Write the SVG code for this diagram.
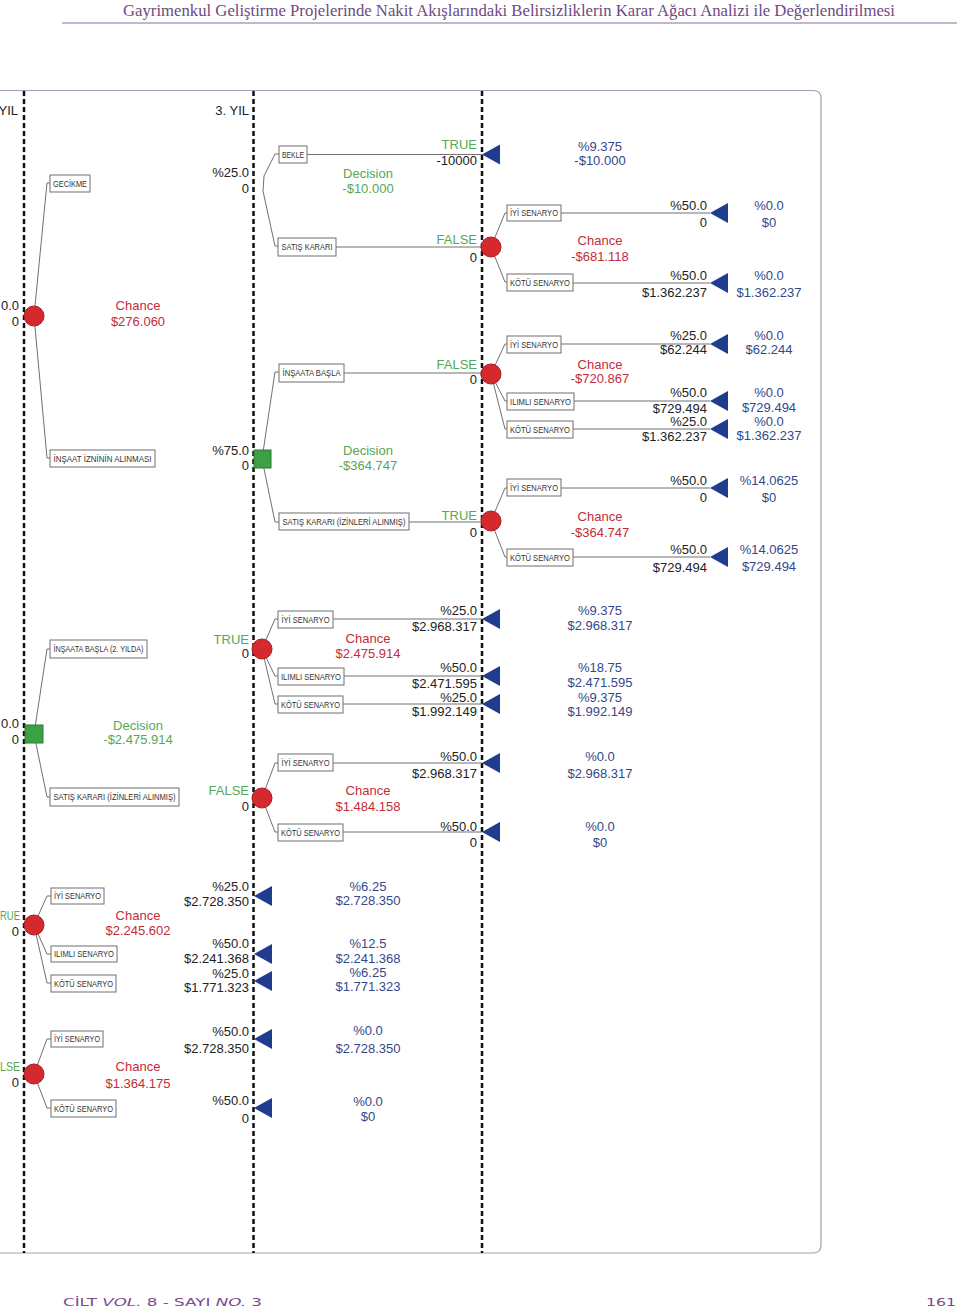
<svg xmlns="http://www.w3.org/2000/svg" xmlns:xlink="http://www.w3.org/1999/xlink" width="960" height="1311" viewBox="0 0 960 1311">
<style>
.t{font-family:"Liberation Sans",Arial,sans-serif;font-size:13px}
.k{fill:#222}
.g{fill:#55a855}
.r{fill:#c42c37}
.b{fill:#34488a}
.e{text-anchor:end}
.m{text-anchor:middle}
.bx{fill:#fff;stroke:#6e6e6e;stroke-width:1}
.lbl{font-family:"Liberation Sans",Arial,sans-serif;font-size:9px;fill:#333;text-anchor:middle}
.dash{stroke:#111;stroke-width:2.5;stroke-dasharray:5 3;fill:none}
.cn{fill:none;stroke:#707070;stroke-width:1}
.ch{fill:#d42a2f;stroke:#a81c22;stroke-width:1}
.dec{fill:#3ca044;stroke:#2c7a30;stroke-width:1}
.term{fill:#1f3c8e}
</style>
<defs>
<path id="tri" d="M0,0 L18,-10 L18,10 Z"/>
</defs>
<rect width="960" height="1311" fill="#fff"/>
<!-- header -->
<text x="509" y="16" font-family="Liberation Serif,serif" font-size="17" fill="#6e4a82" text-anchor="middle" textLength="772" lengthAdjust="spacingAndGlyphs">Gayrimenkul Geliştirme Projelerinde Nakit Akışlarındaki Belirsizliklerin Karar Ağacı Analizi ile Değerlendirilmesi</text>
<line x1="62" y1="23" x2="957" y2="23" stroke="#8a6a9a" stroke-width="1"/>
<!-- frame -->
<path d="M0,90.5 H813 Q821,90.5 821,98 V1245 Q821,1253 813,1253 H0" fill="none" stroke="#a59db5" stroke-width="1.2"/>
<!-- dashed year lines -->
<g id="yearlines">
<line class="dash" x1="24" y1="91" x2="24" y2="1253"/>
<line class="dash" x1="253.5" y1="91" x2="253.5" y2="1253"/>
<line class="dash" x1="482" y1="91" x2="482" y2="1253"/>
</g>
<text class="t k e" x="18" y="115">YIL</text>
<text class="t k e" x="249" y="115">3. YIL</text>

<!-- connectors -->
<g id="connectors" class="cn">
<path d="M34,316 L47,183 H50"/>
<path d="M34,316 L47,458 H50"/>
<path d="M279,154 H275 L264,176 L263,191 L275,246 H278"/>
<path d="M262,459 L275,372 H279"/>
<path d="M262,459 L275,522 H279"/>
<path d="M307,154.5 H482"/>
<path d="M336,247 H482"/>
<path d="M344,373 H482"/>
<path d="M409,522 H482"/>
<path d="M491,247 L505,213 H507"/>
<path d="M491,247 L505,282 H507"/>
<path d="M561,213 H710"/>
<path d="M573,283 H710"/>
<path d="M491,374 L505,344 H507"/>
<path d="M491,374 L505,401 H507"/>
<path d="M491,374 L505,429 H507"/>
<path d="M561,344 H710"/>
<path d="M574,401 H710"/>
<path d="M573,429 H710"/>
<path d="M491,521 L505,488 H507"/>
<path d="M491,521 L505,557 H507"/>
<path d="M561,488 H710"/>
<path d="M573,557 H710"/>
<path d="M34,734 L47,649 H50"/>
<path d="M34,734 L47,797 H50"/>
<path d="M262,649 L275,619 H278"/>
<path d="M262,649 L275,676 H278"/>
<path d="M262,649 L275,704 H278"/>
<path d="M333,619 H482"/>
<path d="M344,676 H482"/>
<path d="M343,704 H482"/>
<path d="M262,798 L275,763 H278"/>
<path d="M262,798 L275,832 H278"/>
<path d="M333,763 H482"/>
<path d="M343,832 H482"/>
<path d="M34,925 L47,896 H51"/>
<path d="M34,925 L47,954 H51"/>
<path d="M34,925 L47,983 H51"/>
<path d="M34,1074 L47,1039 H51"/>
<path d="M34,1074 L47,1108 H51"/>
</g>

<!-- Section 1 -->
<g id="n-chance-276060">
<circle class="ch" cx="34" cy="316" r="10"/>
<text class="t k e" x="19" y="310">0.0</text>
<text class="t k e" x="19" y="326">0</text>
<text class="t r m" x="138" y="310">Chance</text>
<text class="t r m" x="138" y="326">$276.060</text>
</g>
<g id="b-gecikme"><rect class="bx" x="50" y="175" width="40" height="17"/><text class="lbl" x="70" y="186.5" textLength="34" lengthAdjust="spacingAndGlyphs">GECİKME</text></g>
<g id="b-insaat-izni"><rect class="bx" x="50" y="450" width="105" height="17"/><text class="lbl" x="102.5" y="461.5" textLength="98" lengthAdjust="spacingAndGlyphs">İNŞAAT İZNİNİN ALINMASI</text></g>

<g id="n-decision-10000">
<text class="t k e" x="249" y="177">%25.0</text>
<text class="t k e" x="249" y="193">0</text>
<text class="t g m" x="368" y="178">Decision</text>
<text class="t g m" x="368" y="193">-$10.000</text>
</g>
<g id="b-bekle"><rect class="bx" x="279" y="146" width="28" height="17"/><text class="lbl" x="293" y="157.5" textLength="22" lengthAdjust="spacingAndGlyphs">BEKLE</text></g>
<g id="b-satis1"><rect class="bx" x="278" y="238" width="58" height="18"/><text class="lbl" x="307" y="250" textLength="51" lengthAdjust="spacingAndGlyphs">SATIŞ KARARI</text></g>

<g id="n-term-bekle">
<text class="t g e" x="477" y="149">TRUE</text>
<text class="t k e" x="477" y="165">-10000</text>
<use xlink:href="#tri" class="term" x="482" y="154.5"/>
<text class="t b m" x="600" y="151">%9.375</text>
<text class="t b m" x="600" y="165">-$10.000</text>
</g>

<g id="n-chance-681118">
<circle class="ch" cx="491" cy="247" r="10"/>
<text class="t g e" x="477" y="244">FALSE</text>
<text class="t k e" x="477" y="262">0</text>
<text class="t r m" x="600" y="245">Chance</text>
<text class="t r m" x="600" y="261">-$681.118</text>
</g>
<g id="b-a-iyi"><rect class="bx" x="507" y="205" width="54" height="16"/><text class="lbl" x="534" y="216" textLength="48" lengthAdjust="spacingAndGlyphs">İYİ SENARYO</text></g>
<g id="b-a-kotu"><rect class="bx" x="507" y="274" width="66" height="17"/><text class="lbl" x="540" y="285.5" textLength="60" lengthAdjust="spacingAndGlyphs">KÖTÜ SENARYO</text></g>
<g id="t-a-iyi">
<use xlink:href="#tri" class="term" x="710" y="213"/>
<text class="t k e" x="707" y="210">%50.0</text>
<text class="t k e" x="707" y="227">0</text>
<text class="t b m" x="769" y="210">%0.0</text>
<text class="t b m" x="769" y="227">$0</text>
</g>
<g id="t-a-kotu">
<use xlink:href="#tri" class="term" x="710" y="283"/>
<text class="t k e" x="707" y="280">%50.0</text>
<text class="t k e" x="707" y="297">$1.362.237</text>
<text class="t b m" x="769" y="280">%0.0</text>
<text class="t b m" x="769" y="297">$1.362.237</text>
</g>

<g id="n-decision-364747">
<rect class="dec" x="254" y="450" width="17" height="18"/>
<text class="t k e" x="249" y="455">%75.0</text>
<text class="t k e" x="249" y="470">0</text>
<text class="t g m" x="368" y="455">Decision</text>
<text class="t g m" x="368" y="470">-$364.747</text>
</g>
<g id="b-insaata-basla"><rect class="bx" x="279" y="364" width="65" height="18"/><text class="lbl" x="311.5" y="376" textLength="58" lengthAdjust="spacingAndGlyphs">İNŞAATA BAŞLA</text></g>
<g id="b-satis2"><rect class="bx" x="279" y="513" width="130" height="17"/><text class="lbl" x="344" y="524.5" textLength="123" lengthAdjust="spacingAndGlyphs">SATIŞ KARARI (İZİNLERİ ALINMIŞ)</text></g>

<g id="n-chance-720867">
<circle class="ch" cx="491" cy="374" r="10"/>
<text class="t g e" x="477" y="369">FALSE</text>
<text class="t k e" x="477" y="384">0</text>
<text class="t r m" x="600" y="369">Chance</text>
<text class="t r m" x="600" y="383">-$720.867</text>
</g>
<g id="b-b-iyi"><rect class="bx" x="507" y="336" width="54" height="17"/><text class="lbl" x="534" y="347.5" textLength="48" lengthAdjust="spacingAndGlyphs">İYİ SENARYO</text></g>
<g id="b-b-ilimli"><rect class="bx" x="507" y="393" width="67" height="17"/><text class="lbl" x="540.5" y="404.5" textLength="61" lengthAdjust="spacingAndGlyphs">ILIMLI SENARYO</text></g>
<g id="b-b-kotu"><rect class="bx" x="507" y="421" width="66" height="17"/><text class="lbl" x="540" y="432.5" textLength="60" lengthAdjust="spacingAndGlyphs">KÖTÜ SENARYO</text></g>
<g id="t-b-iyi">
<use xlink:href="#tri" class="term" x="710" y="344"/>
<text class="t k e" x="707" y="340">%25.0</text>
<text class="t k e" x="707" y="354">$62.244</text>
<text class="t b m" x="769" y="340">%0.0</text>
<text class="t b m" x="769" y="354">$62.244</text>
</g>
<g id="t-b-ilimli">
<use xlink:href="#tri" class="term" x="710" y="401"/>
<text class="t k e" x="707" y="397">%50.0</text>
<text class="t k e" x="707" y="413">$729.494</text>
<text class="t b m" x="769" y="397">%0.0</text>
<text class="t b m" x="769" y="412">$729.494</text>
</g>
<g id="t-b-kotu">
<use xlink:href="#tri" class="term" x="710" y="429"/>
<text class="t k e" x="707" y="426">%25.0</text>
<text class="t k e" x="707" y="441">$1.362.237</text>
<text class="t b m" x="769" y="426">%0.0</text>
<text class="t b m" x="769" y="440">$1.362.237</text>
</g>

<g id="n-chance-364747">
<circle class="ch" cx="491" cy="521" r="10"/>
<text class="t g e" x="477" y="520">TRUE</text>
<text class="t k e" x="477" y="537">0</text>
<text class="t r m" x="600" y="521">Chance</text>
<text class="t r m" x="600" y="537">-$364.747</text>
</g>
<g id="b-c-iyi"><rect class="bx" x="507" y="479" width="54" height="17"/><text class="lbl" x="534" y="490.5" textLength="48" lengthAdjust="spacingAndGlyphs">İYİ SENARYO</text></g>
<g id="b-c-kotu"><rect class="bx" x="507" y="549" width="66" height="17"/><text class="lbl" x="540" y="560.5" textLength="60" lengthAdjust="spacingAndGlyphs">KÖTÜ SENARYO</text></g>
<g id="t-c-iyi">
<use xlink:href="#tri" class="term" x="710" y="488"/>
<text class="t k e" x="707" y="485">%50.0</text>
<text class="t k e" x="707" y="502">0</text>
<text class="t b m" x="769" y="485">%14.0625</text>
<text class="t b m" x="769" y="502">$0</text>
</g>
<g id="t-c-kotu">
<use xlink:href="#tri" class="term" x="710" y="557"/>
<text class="t k e" x="707" y="554">%50.0</text>
<text class="t k e" x="707" y="572">$729.494</text>
<text class="t b m" x="769" y="554">%14.0625</text>
<text class="t b m" x="769" y="571">$729.494</text>
</g>

<!-- Section 2 -->
<g id="n-decision-2475914">
<rect class="dec" x="25" y="725" width="18" height="18"/>
<text class="t k e" x="19" y="728">0.0</text>
<text class="t k e" x="19" y="744">0</text>
<text class="t g m" x="138" y="730">Decision</text>
<text class="t g m" x="138" y="744">-$2.475.914</text>
</g>
<g id="b-insaata-basla2"><rect class="bx" x="50" y="640" width="97" height="18"/><text class="lbl" x="98.5" y="652" textLength="90" lengthAdjust="spacingAndGlyphs">İNŞAATA BAŞLA (2. YILDA)</text></g>
<g id="b-satis3"><rect class="bx" x="50" y="788" width="129" height="18"/><text class="lbl" x="114.5" y="800" textLength="122" lengthAdjust="spacingAndGlyphs">SATIŞ KARARI (İZİNLERİ ALINMIŞ)</text></g>

<g id="n-chance-2475914">
<circle class="ch" cx="262" cy="649" r="10"/>
<text class="t g e" x="249" y="644">TRUE</text>
<text class="t k e" x="249" y="658">0</text>
<text class="t r m" x="368" y="643">Chance</text>
<text class="t r m" x="368" y="658">$2.475.914</text>
</g>
<g id="b-d-iyi"><rect class="bx" x="278" y="611" width="55" height="17"/><text class="lbl" x="305.5" y="622.5" textLength="48" lengthAdjust="spacingAndGlyphs">İYİ SENARYO</text></g>
<g id="b-d-ilimli"><rect class="bx" x="278" y="668" width="66" height="17"/><text class="lbl" x="311" y="679.5" textLength="60" lengthAdjust="spacingAndGlyphs">ILIMLI SENARYO</text></g>
<g id="b-d-kotu"><rect class="bx" x="278" y="696" width="65" height="17"/><text class="lbl" x="310.5" y="707.5" textLength="59" lengthAdjust="spacingAndGlyphs">KÖTÜ SENARYO</text></g>
<g id="t-d-iyi">
<use xlink:href="#tri" class="term" x="482" y="619"/>
<text class="t k e" x="477" y="615">%25.0</text>
<text class="t k e" x="477" y="631">$2.968.317</text>
<text class="t b m" x="600" y="615">%9.375</text>
<text class="t b m" x="600" y="630">$2.968.317</text>
</g>
<g id="t-d-ilimli">
<use xlink:href="#tri" class="term" x="482" y="676"/>
<text class="t k e" x="477" y="672">%50.0</text>
<text class="t k e" x="477" y="688">$2.471.595</text>
<text class="t b m" x="600" y="672">%18.75</text>
<text class="t b m" x="600" y="687">$2.471.595</text>
</g>
<g id="t-d-kotu">
<use xlink:href="#tri" class="term" x="482" y="704"/>
<text class="t k e" x="477" y="702">%25.0</text>
<text class="t k e" x="477" y="716">$1.992.149</text>
<text class="t b m" x="600" y="702">%9.375</text>
<text class="t b m" x="600" y="716">$1.992.149</text>
</g>

<g id="n-chance-1484158">
<circle class="ch" cx="262" cy="798" r="10"/>
<text class="t g e" x="249" y="795">FALSE</text>
<text class="t k e" x="249" y="811">0</text>
<text class="t r m" x="368" y="795">Chance</text>
<text class="t r m" x="368" y="811">$1.484.158</text>
</g>
<g id="b-e-iyi"><rect class="bx" x="278" y="754" width="55" height="17"/><text class="lbl" x="305.5" y="765.5" textLength="48" lengthAdjust="spacingAndGlyphs">İYİ SENARYO</text></g>
<g id="b-e-kotu"><rect class="bx" x="278" y="824" width="65" height="17"/><text class="lbl" x="310.5" y="835.5" textLength="59" lengthAdjust="spacingAndGlyphs">KÖTÜ SENARYO</text></g>
<g id="t-e-iyi">
<use xlink:href="#tri" class="term" x="482" y="763"/>
<text class="t k e" x="477" y="761">%50.0</text>
<text class="t k e" x="477" y="778">$2.968.317</text>
<text class="t b m" x="600" y="761">%0.0</text>
<text class="t b m" x="600" y="778">$2.968.317</text>
</g>
<g id="t-e-kotu">
<use xlink:href="#tri" class="term" x="482" y="832"/>
<text class="t k e" x="477" y="831">%50.0</text>
<text class="t k e" x="477" y="847">0</text>
<text class="t b m" x="600" y="831">%0.0</text>
<text class="t b m" x="600" y="847">$0</text>
</g>

<!-- Section 3 -->
<g id="n-chance-2245602">
<circle class="ch" cx="34" cy="925" r="10"/>
<text class="t g" x="0" y="920" textLength="20" lengthAdjust="spacingAndGlyphs">RUE</text>
<text class="t k e" x="19" y="936">0</text>
<text class="t r m" x="138" y="920">Chance</text>
<text class="t r m" x="138" y="935">$2.245.602</text>
</g>
<g id="b-f-iyi"><rect class="bx" x="51" y="888" width="53" height="16"/><text class="lbl" x="77.5" y="899" textLength="47" lengthAdjust="spacingAndGlyphs">İYİ SENARYO</text></g>
<g id="b-f-ilimli"><rect class="bx" x="51" y="946" width="66" height="16"/><text class="lbl" x="84" y="957" textLength="60" lengthAdjust="spacingAndGlyphs">ILIMLI SENARYO</text></g>
<g id="b-f-kotu"><rect class="bx" x="51" y="975" width="65" height="17"/><text class="lbl" x="83.5" y="986.5" textLength="59" lengthAdjust="spacingAndGlyphs">KÖTÜ SENARYO</text></g>
<g id="t-f-iyi">
<use xlink:href="#tri" class="term" x="254" y="896"/>
<text class="t k e" x="249" y="891">%25.0</text>
<text class="t k e" x="249" y="906">$2.728.350</text>
<text class="t b m" x="368" y="891">%6.25</text>
<text class="t b m" x="368" y="905">$2.728.350</text>
</g>
<g id="t-f-ilimli">
<use xlink:href="#tri" class="term" x="254" y="954"/>
<text class="t k e" x="249" y="948">%50.0</text>
<text class="t k e" x="249" y="963">$2.241.368</text>
<text class="t b m" x="368" y="948">%12.5</text>
<text class="t b m" x="368" y="963">$2.241.368</text>
</g>
<g id="t-f-kotu">
<use xlink:href="#tri" class="term" x="254" y="981"/>
<text class="t k e" x="249" y="978">%25.0</text>
<text class="t k e" x="249" y="992">$1.771.323</text>
<text class="t b m" x="368" y="977">%6.25</text>
<text class="t b m" x="368" y="991">$1.771.323</text>
</g>

<g id="n-chance-1364175">
<circle class="ch" cx="34" cy="1074" r="10"/>
<text class="t g" x="0" y="1071" textLength="20" lengthAdjust="spacingAndGlyphs">LSE</text>
<text class="t k e" x="19" y="1087">0</text>
<text class="t r m" x="138" y="1071">Chance</text>
<text class="t r m" x="138" y="1088">$1.364.175</text>
</g>
<g id="b-g-iyi"><rect class="bx" x="51" y="1031" width="52" height="16"/><text class="lbl" x="77" y="1042" textLength="46" lengthAdjust="spacingAndGlyphs">İYİ SENARYO</text></g>
<g id="b-g-kotu"><rect class="bx" x="51" y="1100" width="65" height="17"/><text class="lbl" x="83.5" y="1111.5" textLength="59" lengthAdjust="spacingAndGlyphs">KÖTÜ SENARYO</text></g>
<g id="t-g-iyi">
<use xlink:href="#tri" class="term" x="254" y="1039"/>
<text class="t k e" x="249" y="1036">%50.0</text>
<text class="t k e" x="249" y="1053">$2.728.350</text>
<text class="t b m" x="368" y="1035">%0.0</text>
<text class="t b m" x="368" y="1053">$2.728.350</text>
</g>
<g id="t-g-kotu">
<use xlink:href="#tri" class="term" x="254" y="1108"/>
<text class="t k e" x="249" y="1105">%50.0</text>
<text class="t k e" x="249" y="1123">0</text>
<text class="t b m" x="368" y="1106">%0.0</text>
<text class="t b m" x="368" y="1121">$0</text>
</g>

<!-- footer -->
<text x="63" y="1306" font-family="DejaVu Sans,sans-serif" font-size="11" fill="#7a4a8c" textLength="199" lengthAdjust="spacingAndGlyphs">CİLT <tspan font-style="italic">VOL.</tspan> 8 - SAYI <tspan font-style="italic">NO.</tspan> 3</text>
<text x="926" y="1306" font-family="DejaVu Sans,sans-serif" font-size="11" fill="#7a4a8c" textLength="30" lengthAdjust="spacingAndGlyphs">161</text>
</svg>
